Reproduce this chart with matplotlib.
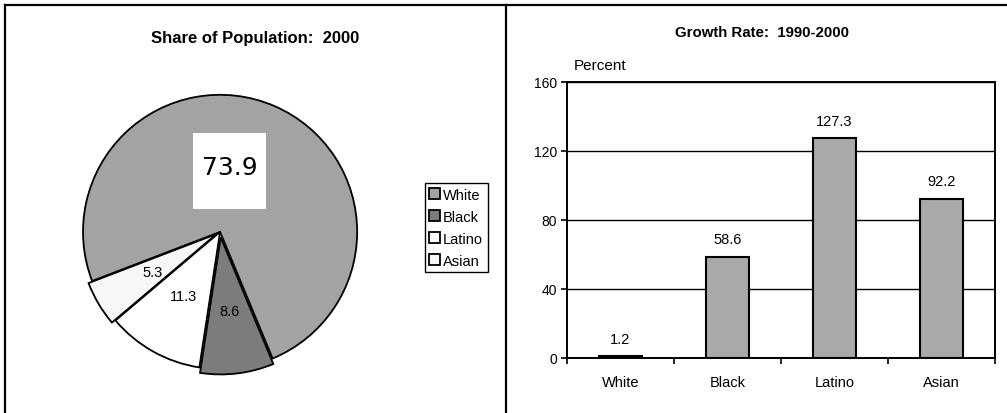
import numpy as np
import matplotlib.pyplot as plt
from matplotlib.lines import Line2D
from matplotlib.patches import Rectangle

plt.rcParams['font.family'] = ['Liberation Sans', 'DejaVu Sans']

# data
groups = ["White", "Black", "Latino", "Asian"]
share_2000 = [73.9, 8.6, 11.3, 5.3]
growth_1990_2000 = [1.2, 58.6, 127.3, 92.2]
growth_ticks = [0, 40, 80, 120, 160]

pie_colors = ["#a3a3a3", "#7c7c7c", "#ffffff", "#f7f7f7"]
pie_explode = [0, 0.04, 0, 0.03]
bar_color = "#a9a9a9"

fig = plt.figure(figsize=(10.07, 4.14), dpi=100)

# panel frames (scanned page look)
for xs, ys in [([0.005, 1.0], [0.985, 0.985]),
               ([0.005, 0.005], [0.0, 0.985]),
               ([0.5025, 0.5025], [0.0, 0.985])]:
    fig.add_artist(Line2D(xs, ys, color="black", lw=1.6, transform=fig.transFigure))

# ---- left: pie chart ----
fig.text(0.253, 0.908, "Share of Population:  2000", ha="center", va="center",
         fontsize=12, fontweight="bold")

ax1 = fig.add_axes([0.0552, 0.0401, 0.3267, 0.7947])
wedges, _ = ax1.pie(share_2000, colors=pie_colors, explode=pie_explode,
                    startangle=201, counterclock=False, radius=1.0,
                    wedgeprops=dict(edgecolor="black", linewidth=1.3))
ax1.set_xlim(-1.2, 1.2)
ax1.set_ylim(-1.2, 1.2)
ax1.set_aspect("equal")

for w, val, name in zip(wedges, share_2000, groups):
    cx, cy = w.center
    if name == "White":
        # hand-written value on a pasted white note
        ang = np.deg2rad(81)
        lx, ly = cx + 0.45 * np.cos(ang), cy + 0.45 * np.sin(ang)
        ax1.add_patch(Rectangle((lx - 0.265, ly - 0.275), 0.53, 0.55,
                                facecolor="white", edgecolor="none", zorder=3))
        ax1.text(lx, ly + 0.03, f"{val}", ha="center", va="center", fontsize=18,
                 family="DejaVu Sans", zorder=4)
    else:
        ang = np.deg2rad((w.theta1 + w.theta2) / 2)
        ax1.text(cx + 0.54 * np.cos(ang), cy + 0.54 * np.sin(ang), f"{val}",
                 ha="center", va="center", fontsize=10.5)

fig.legend(wedges, groups, loc="upper left", bbox_to_anchor=(0.422, 0.555),
           bbox_transform=fig.transFigure, fontsize=10.5, frameon=True,
           fancybox=False, edgecolor="black", handlelength=0.75,
           handleheight=0.75, handletextpad=0.2, labelspacing=0.55,
           borderpad=0.3, borderaxespad=0.0, framealpha=1)

# ---- right: bar chart ----
fig.text(0.757, 0.92, "Growth Rate:  1990-2000", ha="center", va="center",
         fontsize=10.8, fontweight="bold")

ax2 = fig.add_axes([0.563, 0.1329, 0.425, 0.6678])
x = np.arange(len(groups))
ax2.bar(x, growth_1990_2000, width=0.4, color=bar_color, edgecolor="black",
        linewidth=1.5, zorder=3)
for xi, v in zip(x, growth_1990_2000):
    ax2.text(xi, v + 6, f"{v}", ha="center", va="bottom", fontsize=10.5)

ax2.set_xlim(-0.5, len(groups) - 0.5)
ax2.set_ylim(growth_ticks[0], growth_ticks[-1])
ax2.set_yticks(growth_ticks)
ax2.yaxis.grid(True, color="black", linewidth=1.0)
ax2.set_axisbelow(True)
ax2.set_xticks(x)
ax2.set_xticklabels(groups)
ax2.set_xticks(np.arange(-0.5, len(groups)), minor=True)
ax2.tick_params(axis="x", which="major", length=0, pad=12, labelsize=10.5)
ax2.tick_params(axis="x", which="minor", length=4, width=1.2, direction="out")
ax2.tick_params(axis="y", length=4, width=1.2, labelsize=10, pad=3)
for sp in ax2.spines.values():
    sp.set_linewidth(1.4)
ax2.text(0.015, 1.035, "Percent", transform=ax2.transAxes, ha="left",
         va="bottom", fontsize=11)

fig.savefig("out.png", dpi=100)
